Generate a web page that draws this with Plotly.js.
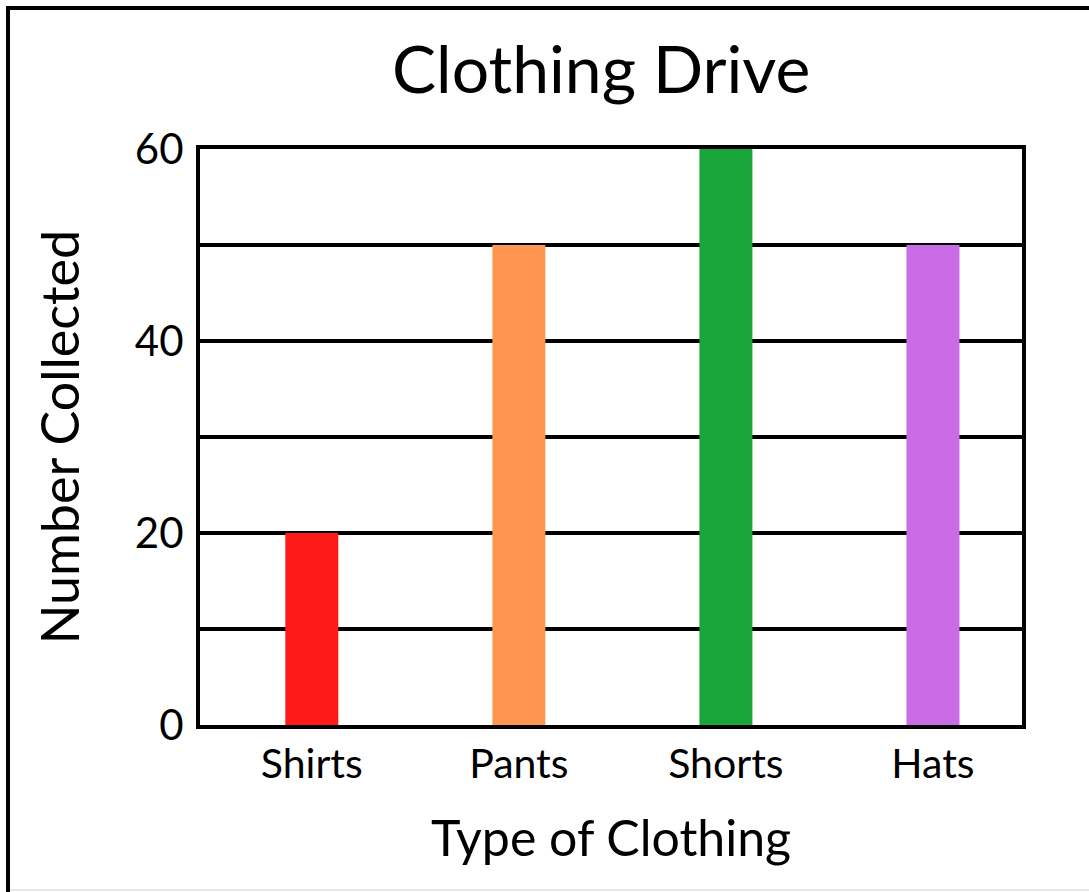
<!DOCTYPE html>
<html>
<head>
<meta charset="utf-8">
<script src="https://cdn.plot.ly/plotly-3.0.1.min.js"></script>
<style>
html,body{margin:0;padding:0;background:#fff;}
#chart{width:1089px;height:892px;}
</style>
</head>
<body>
<div id="chart"></div>
<script>
const categories = ["Shirts", "Pants", "Shorts", "Hats"];
const values = [20, 50, 60, 50];
const barColors = ["#FF1A1A", "#FF9650", "#18A63A", "#CA6CE6"];
const yTickValues = [0, 20, 40, 60];
const yTickLabels = ["0", "20", "40", "60"];

const FONT = "Lato, 'Noto Sans', sans-serif";

const trace = {
  type: "bar",
  x: categories,
  y: values,
  width: 0.256,
  marker: {color: barColors, line: {width: 0}},
  hoverinfo: "x+y"
};

const layout = {
  width: 1089,
  height: 892,
  margin: {l: 200, r: 67, t: 149, b: 167},
  paper_bgcolor: "#ffffff",
  plot_bgcolor: "#ffffff",
  showlegend: false,
  font: {family: FONT, color: "#000"},
  title: {
    text: "Clothing Drive",
    font: {family: FONT, size: 66, color: "#000"},
    xref: "container", x: 0.552, xanchor: "center",
    yref: "container", y: 0.922, yanchor: "middle"
  },
  xaxis: {
    type: "category",
    range: [-0.54, 3.43],
    showgrid: false,
    showline: true, linecolor: "#000", linewidth: 4, mirror: true,
    ticks: "", ticklabelstandoff: 0,
    tickfont: {family: FONT, size: 41, color: "#000"},
    title: {text: "Type of Clothing", font: {family: FONT, size: 50, color: "#000"}, standoff: 36},
    zeroline: false, fixedrange: true
  },
  yaxis: {
    range: [0, 60],
    tickmode: "array",
    tickvals: yTickValues,
    ticktext: yTickLabels,
    showgrid: true, gridcolor: "#000", gridwidth: 4,
    showline: true, linecolor: "#000", linewidth: 4, mirror: true,
    ticks: "", ticklabelstandoff: 4,
    tickfont: {family: FONT, size: 42, color: "#000"},
    title: {text: "Number Collected", font: {family: FONT, size: 52, color: "#000"}, standoff: 40},
    zeroline: false, fixedrange: true
  },
  shapes: [
    {type: "line", xref: "paper", yref: "paper", x0: (8-200)/822, x1: (8-200)/822, y0: (725-892)/576, y1: (725-8)/576, line: {color: "#000", width: 4}},
    {type: "line", xref: "paper", yref: "paper", x0: (6-200)/822, x1: (1089-200)/822, y0: (725-8)/576, y1: (725-8)/576, line: {color: "#000", width: 4}},
    {type: "line", xref: "paper", yref: "paper", x0: (10-200)/822, x1: (1089-200)/822, y0: (725-890)/576, y1: (725-890)/576, line: {color: "#e6e6e6", width: 2}}
  ]
};

// gridlines at the unlabelled tens (10, 30, 50), tied to the y axis
const minorLines = [10, 30, 50];
minorLines.forEach(v => layout.shapes.push({
  type: "line", xref: "paper", yref: "y", x0: 0, x1: 1, y0: v, y1: v,
  line: {color: "#000", width: 4}, layer: "below"
}));

Plotly.newPlot("chart", [trace], layout, {displayModeBar: false, staticPlot: true});
</script>
</body>
</html>
